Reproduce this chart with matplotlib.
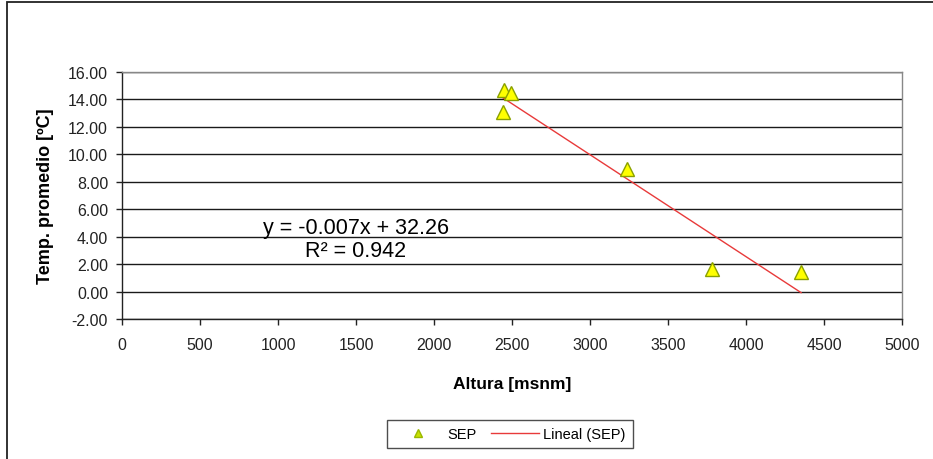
import numpy as np
import matplotlib
matplotlib.use("Agg")
import matplotlib.pyplot as plt
from matplotlib.patches import Rectangle
from matplotlib.lines import Line2D

plt.rcParams['font.family'] = ['Liberation Sans', 'DejaVu Sans']

# Station altitude [msnm] and mean temperature [ºC] for SEP
altura = [2449, 2494, 2442, 3237, 3782, 4353]
temp = [14.7, 14.5, 13.1, 8.9, 1.63, 1.39]

x_ticks = [0, 500, 1000, 1500, 2000, 2500, 3000, 3500, 4000, 4500, 5000]
y_ticks = [-2, 0, 2, 4, 6, 8, 10, 12, 14, 16]

# Linear trend line
slope, intercept = np.polyfit(altura, temp, 1)
pred = np.polyval([slope, intercept], altura)
r2 = 1 - np.sum((np.array(temp) - pred) ** 2) / np.sum((np.array(temp) - np.mean(temp)) ** 2)

fig = plt.figure(figsize=(9.33, 4.6), dpi=100)
fig.patch.set_facecolor('white')

# outer chart frame
fig.add_artist(Rectangle((7 / 933, -0.05), 1.0, 1 - 3 / 460 + 0.05, transform=fig.transFigure,
                         fill=False, edgecolor='#222222', lw=1.3))

ax = fig.add_axes([122 / 933, 1 - 320 / 460, 780 / 933, 247 / 460])
ax.set_xlim(0, 5000)
ax.set_ylim(-2, 16)
ax.set_xticks(x_ticks)
ax.set_yticks(y_ticks)
ax.set_xticklabels([str(v) for v in x_ticks], fontsize=11.5, color='#222222')
ax.set_yticklabels([f"{v:.2f}" for v in y_ticks], fontsize=11.5, color='#222222')
ax.tick_params(axis='x', direction='out', length=4, width=1, color='#222222', pad=9)
ax.tick_params(axis='y', direction='out', length=4, width=1, color='#222222', pad=6)

for y in y_ticks:
    ax.axhline(y, color='#1a1a1a', lw=1.0, zorder=1)

for side in ['top', 'right']:
    ax.spines[side].set_color('#888888')
    ax.spines[side].set_linewidth(1)
for side in ['left', 'bottom']:
    ax.spines[side].set_color('#222222')
    ax.spines[side].set_linewidth(1)

xs = np.array([min(altura), max(altura)])
ax.plot(xs, slope * xs + intercept, color='#E83A3A', lw=1.0, zorder=3)
ax.plot(altura, temp, linestyle='none', marker='^', markersize=10.5,
        markerfacecolor='#FFFF00', markeredgecolor='#8AA000', markeredgewidth=1.0, zorder=4)

ax.set_xlabel('Altura [msnm]', fontsize=12.5, fontweight='bold', labelpad=17)
ax.set_ylabel('Temp. promedio [ºC]', fontsize=13, fontweight='bold', labelpad=10)

ax.text(1500, 4.66, f"y = {slope:.3f}x + {intercept:.2f}", fontsize=15.5, ha='center', va='center')
ax.text(1500, 2.99, f"R² = {r2:.3f}", fontsize=15.5, ha='center', va='center')

handles = [
    Line2D([], [], linestyle='none', marker='^', markersize=6, markerfacecolor='#C8E000',
           markeredgecolor='#9AB800', label='SEP'),
    Line2D([], [], color='#E83A3A', lw=1.0, label='Lineal (SEP)'),
]
leg = fig.legend(handles=handles, loc='center', bbox_to_anchor=(510 / 933, 1 - 435 / 460),
                 ncol=2, fontsize=10.5, frameon=True, fancybox=False, edgecolor='#222222',
                 handlelength=3.3, columnspacing=1.0, handletextpad=0.3, borderpad=0.5)
leg.get_frame().set_linewidth(1)

fig.savefig('out.png', dpi=100)
